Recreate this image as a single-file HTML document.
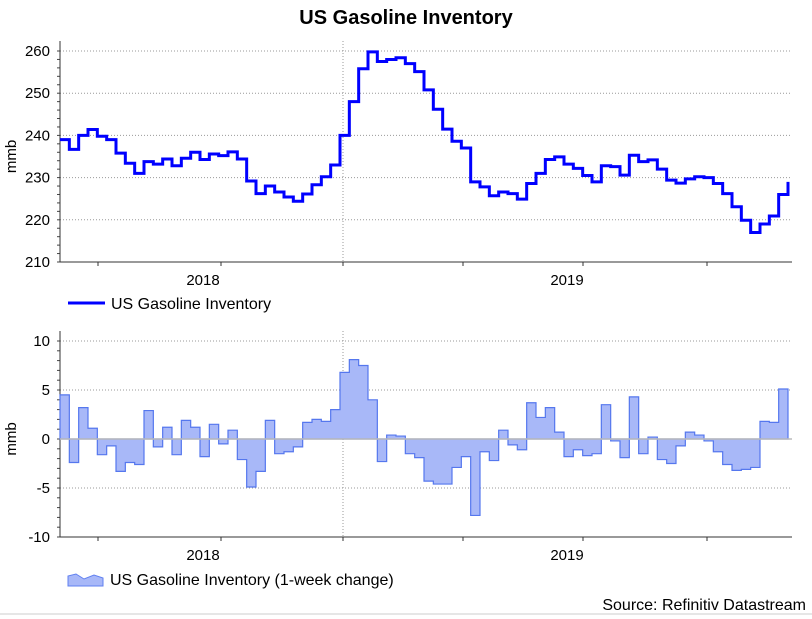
<!DOCTYPE html>
<html><head><meta charset="utf-8"><style>
body{margin:0;background:#fff;width:812px;height:619px;overflow:hidden;font-family:"Liberation Sans",sans-serif}
svg{display:block}
</style></head><body>
<svg id="c" width="812" height="619">
<text x="406" y="24" text-anchor="middle" font-size="20" font-weight="bold">US Gasoline Inventory</text>
<g id="top"></g>
<g id="bot"></g>
<g><line x1="68" y1="303" x2="105" y2="303" stroke="#0000ff" stroke-width="3"/><text x="111" y="309" font-size="16">US Gasoline Inventory</text></g>
<g><path d="M68,586 L68,576 L76,574 L84,579 L94,575 L103,578 L103,586 Z" fill="#a8b8f8" stroke="#6080f0" stroke-width="1"/><text x="110" y="585" font-size="16">US Gasoline Inventory (1-week change)</text></g>
<text x="806" y="610" text-anchor="end" font-size="16">Source: Refinitiv Datastream</text>
<line x1="0" y1="614" x2="812" y2="614" stroke="#ccc"/>
</svg>
<script>
const levels=[239,236.7,240,241.4,239.8,239,235.8,233.4,231,233.8,233.2,234.4,232.8,234.6,236,234.3,235.6,235.2,236.1,234.4,229.2,226.2,228,226.6,225.4,224.4,226.1,228.3,230.2,233,240,248,255.8,259.8,257.5,258,258.4,257,255.1,250.8,246.2,241.5,238.6,237,229,227.8,225.7,226.6,226.2,224.9,228.6,231,234.3,234.9,233.2,232.2,230.5,229,232.8,232.6,230.6,235.3,233.8,234.2,232,229.4,228.7,229.7,230.2,230,228.6,226.2,223.1,219.9,217,219,220.9,226,229];
const changes=[4.5,-2.4,3.2,1.1,-1.6,-0.7,-3.3,-2.4,-2.6,2.9,-0.8,1.2,-1.6,1.9,1.2,-1.8,1.5,-0.5,0.9,-2.1,-4.9,-3.3,1.9,-1.5,-1.3,-0.8,1.7,2.0,1.8,3.0,6.8,8.1,7.5,4.0,-2.3,0.4,0.3,-1.5,-1.9,-4.3,-4.6,-4.6,-2.9,-1.8,-7.8,-1.3,-2.2,0.9,-0.6,-1.1,3.7,2.2,3.2,0.7,-1.8,-1.1,-1.7,-1.5,3.5,-0.2,-1.9,4.3,-1.5,0.2,-2.1,-2.5,-0.7,0.7,0.4,-0.2,-1.3,-2.6,-3.2,-3.1,-2.9,1.8,1.7,5.1,3.4];
const topTicks=[210,220,230,240,250,260];
const botTicks=[-10,-5,0,5,10];
const yearLabels=["2018","2019"];
const NS="http://www.w3.org/2000/svg";
const X0=60,X1=788,RIGHT=792;
const step=(X1-X0)/(levels.length-1);
const xs=i=>X0+i*step;
function mk(p,t,a){const e=document.createElementNS(NS,t);for(const k in a)e.setAttribute(k,a[k]);p.appendChild(e);return e;}
function panel(g,yTop,yBot,vmin,vmax,ticks,minor){
  const y=v=>yBot-(v-vmin)/(vmax-vmin)*(yBot-yTop);
  ticks.forEach(t=>{
    if(t!==vmin){const l=mk(g,'line',{x1:X0,x2:RIGHT,y1:y(t),y2:y(t),stroke:'#999','stroke-dasharray':'1,2'});
    
    }
    const tx=mk(g,'text',{x:50,y:y(t)+5,'text-anchor':'end','font-size':15});tx.textContent=t;
    
    
  });
  for(let v=vmin;v<=vmax;v+=minor){mk(g,'line',{x1:X0-3,x2:X0,y1:y(v),y2:y(v),stroke:'#444'});}
  mk(g,'line',{x1:343,x2:343,y1:yTop-10,y2:yBot,stroke:'#999','stroke-dasharray':'1,2'});
  mk(g,'line',{x1:X0,x2:X0,y1:yTop-10,y2:yBot,stroke:'#333'});
  mk(g,'line',{x1:X0,x2:RIGHT,y1:yBot,y2:yBot,stroke:'#333'});
  [98,221,343,463,583,707].forEach(x=>mk(g,'line',{x1:x,x2:x,y1:yBot,y2:yBot+4,stroke:'#333'}));
  [203,567].forEach((x,i)=>{const t=mk(g,'text',{x:x,y:yBot+23,'text-anchor':'middle','font-size':15});t.textContent=yearLabels[i];
    
    });
  const lab=mk(g,'text',{x:0,y:0,'font-size':15,'text-anchor':'middle',transform:`translate(16,${(yTop+yBot)/2}) rotate(-90)`});lab.textContent='mmb';
  
  
  return y;
}
const gt=document.getElementById('top');
const yT=panel(gt,51,262,210,260,topTicks,2);
let d='';levels.forEach((v,i)=>{d+=(i?'L':'M')+xs(i)+','+yT(v);if(i<levels.length-1)d+='L'+xs(i+1)+','+yT(v);});
const line=mk(gt,'path',{d:d,fill:'none',stroke:'#0000ff','stroke-width':3});


const gb=document.getElementById('bot');
const yB=panel(gb,341,537,-10,10,botTicks,1);
let a='M'+X0+','+yB(0);
changes.forEach((v,i)=>{const xe=i<changes.length-1?xs(i+1):xs(i);a+='L'+xs(i)+','+yB(v)+'L'+xe+','+yB(v);});
a+='L'+xs(changes.length-1)+','+yB(0)+'Z';
const area=mk(gb,'path',{d:a,fill:'#a8b8f8',stroke:'#5577ee','stroke-width':1.2});


mk(gb,'line',{x1:X0,x2:RIGHT,y1:yB(0),y2:yB(0),stroke:'#bbb','stroke-width':1.5});
</script>
</body></html>
